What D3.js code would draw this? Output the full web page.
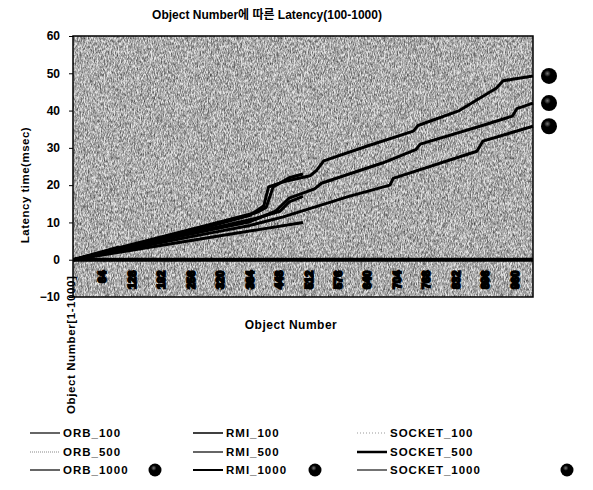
<!DOCTYPE html>
<html>
<head>
<meta charset="utf-8">
<script src="https://cdn.jsdelivr.net/npm/d3@7"></script>
<style>
  body { margin: 0; background: #fff; }
  svg { display: block; font-family: "Liberation Sans", Arial, "Noto Sans CJK KR", sans-serif; font-weight: bold; }
</style>
</head>
<body>
<div id="chart"></div>
<script>
const Width = 593;
const Height = 490;

// y axis ticks and the category labels under the zero line
const yTicks = [-10, 0, 10, 20, 30, 40, 50, 60];
const xTickObjects = [64, 128, 192, 256, 320, 384, 448, 512, 576, 640, 704, 768, 832, 896, 960];

// object number / latency (msec) for each series
const orb100Obj = [1, 50, 100];
const orb100Ms = [0, 1.7, 3.4];
const rmi100Obj = [1, 50, 100];
const rmi100Ms = [0, 1.5, 3.0];
const socket100Obj = [1, 50, 100];
const socket100Ms = [0, 1.2, 2.5];

const orb500Obj = [1, 100, 200, 300, 400, 420, 435, 470, 500];
const orb500Ms = [0, 3.2, 6.4, 9.5, 12.7, 14, 19.5, 22, 23];
const rmi500Obj = [1, 100, 200, 300, 400, 450, 470, 500];
const rmi500Ms = [0, 2.8, 5.6, 8.4, 11.2, 13, 15.5, 17];
const socket500Obj = [1, 100, 200, 300, 400, 500];
const socket500Ms = [0, 2.0, 4.0, 6.0, 8.0, 10];

const orb1000Obj = [1, 100, 200, 300, 385, 415, 425, 460, 515, 530, 545, 640, 740, 750, 840, 920, 935, 1000];
const orb1000Ms = [0, 3, 6, 9, 11.9, 14.5, 19.5, 21, 22.5, 24, 26.5, 30.5, 34.5, 36, 40, 46, 48, 49.3];
const rmi1000Obj = [1, 100, 200, 300, 385, 440, 470, 525, 540, 674, 745, 755, 890, 955, 965, 1000];
const rmi1000Ms = [0, 2.7, 5.4, 8, 10.2, 13, 16.5, 19, 20.5, 26, 29.5, 31, 36, 38.5, 40.5, 42];
const socket1000Obj = [1, 100, 200, 300, 385, 457, 600, 689, 696, 878, 891, 1000];
const socket1000Ms = [0, 2.4, 4.8, 7.2, 9.2, 11.5, 17, 20, 21.8, 29.1, 31.8, 35.8];

const Series = [
  { name: 'ORB_100', obj: orb100Obj, ms: orb100Ms, col: 0, row: 0, stroke: '#000', w: 1.2, dash: null, marker: false },
  { name: 'ORB_500', obj: orb500Obj, ms: orb500Ms, col: 0, row: 1, stroke: '#888', w: 1, dash: '1,1', marker: false },
  { name: 'ORB_1000', obj: orb1000Obj, ms: orb1000Ms, col: 0, row: 2, stroke: '#333', w: 1.5, dash: null, marker: true },
  { name: 'RMI_100', obj: rmi100Obj, ms: rmi100Ms, col: 1, row: 0, stroke: '#000', w: 1.5, dash: null, marker: false },
  { name: 'RMI_500', obj: rmi500Obj, ms: rmi500Ms, col: 1, row: 1, stroke: '#333', w: 1.5, dash: null, marker: false },
  { name: 'RMI_1000', obj: rmi1000Obj, ms: rmi1000Ms, col: 1, row: 2, stroke: '#000', w: 2, dash: null, marker: true },
  { name: 'SOCKET_100', obj: socket100Obj, ms: socket100Ms, col: 2, row: 0, stroke: '#999', w: 1, dash: '1,2', marker: false },
  { name: 'SOCKET_500', obj: socket500Obj, ms: socket500Ms, col: 2, row: 1, stroke: '#000', w: 2.5, dash: null, marker: false },
  { name: 'SOCKET_1000', obj: socket1000Obj, ms: socket1000Ms, col: 2, row: 2, stroke: '#444', w: 1.5, dash: null, marker: true }
];

const svg = d3.select('#chart').append('svg')
  .attr('width', Width)
  .attr('height', Height);

const x = d3.scaleLinear().domain([0, 1000]).range([73, 533]);
const y = d3.scaleLinear().domain([-10, 60]).range([297, 36]);

//grainy scanned background
const defs = svg.append('defs');
const grain = defs.append('filter').attr('id', 'grain')
  .attr('x', 0).attr('y', 0).attr('width', 1).attr('height', 1);
grain.append('feTurbulence')
  .attr('type', 'fractalNoise')
  .attr('baseFrequency', '1.3 0.35')
  .attr('numOctaves', 2)
  .attr('seed', 4);
grain.append('feColorMatrix')
  .attr('type', 'matrix')
  .attr('values', '0 0 0 0 0  0 0 0 0 0  0 0 0 0 0  1.15 0 0 0 -0.32');
grain.append('feComposite').attr('in2', 'SourceGraphic').attr('operator', 'in');

defs.append('radialGradient').attr('id', 'ball')
  .attr('cx', '40%').attr('cy', '35%').attr('r', '60%')
  .call(g => {
    g.append('stop').attr('offset', '0%').attr('stop-color', '#777');
    g.append('stop').attr('offset', '35%').attr('stop-color', '#000');
    g.append('stop').attr('offset', '100%').attr('stop-color', '#000');
  });

svg.append('rect')
  .attr('x', x(0)).attr('y', y(60))
  .attr('width', x(1000) - x(0)).attr('height', y(-10) - y(60))
  .attr('fill', '#e6e6e6');
svg.append('rect')
  .attr('x', x(0)).attr('y', y(60))
  .attr('width', x(1000) - x(0)).attr('height', y(-10) - y(60))
  .attr('fill', '#fff')
  .attr('filter', 'url(#grain)');

//y axis
const yAxis = svg.append('g')
  .attr('transform', 'translate(' + x(0) + ',0)')
  .call(d3.axisLeft(y).tickValues(yTicks).tickSize(4).tickPadding(9));
yAxis.select('.domain').remove();
yAxis.selectAll('text').style('font-size', '12px').attr('fill', '#000');

//category labels below the zero line
svg.append('g').selectAll('text')
  .data(xTickObjects)
  .enter()
  .append('text')
  .attr('transform', d => 'translate(' + (x(d) + 4) + ',' + (y(0) + 11) + ') rotate(-90)')
  .attr('text-anchor', 'end')
  .style('font-size', '11px')
  .attr('fill', '#000')
  .attr('stroke', '#000')
  .attr('stroke-width', 1.8)
  .text(d => d);

//zero line
svg.append('line')
  .attr('x1', x(0)).attr('x2', x(1000))
  .attr('y1', y(0)).attr('y2', y(0))
  .attr('stroke', '#000').attr('stroke-width', 4);

//series lines
const line = d3.line()
  .x(d => x(d[0]))
  .y(d => y(d[1]));

svg.append('g').selectAll('path')
  .data(Series)
  .enter()
  .append('path')
  .attr('d', s => line(d3.zip(s.obj, s.ms)))
  .attr('fill', 'none')
  .attr('stroke', '#000')
  .attr('stroke-width', 3)
  .attr('stroke-linejoin', 'round');

//end markers
svg.append('g').selectAll('circle')
  .data(Series.filter(s => s.marker))
  .enter()
  .append('circle')
  .attr('cx', x(1000) + 16)
  .attr('cy', s => y(s.ms[s.ms.length - 1]))
  .attr('r', 8)
  .attr('fill', 'url(#ball)');

//frame
svg.append('rect')
  .attr('x', x(0)).attr('y', y(60))
  .attr('width', x(1000) - x(0)).attr('height', y(-10) - y(60))
  .attr('fill', 'none')
  .attr('stroke', '#000')
  .attr('stroke-width', 1.5);

//titles
svg.append('text')
  .attr('x', 267).attr('y', 19)
  .attr('text-anchor', 'middle')
  .style('font-size', '12px')
  .text('Object Number에 따른 Latency(100-1000)');

svg.append('text')
  .attr('transform', 'translate(29,185) rotate(-90)')
  .attr('text-anchor', 'middle')
  .style('font-size', '11.5px')
  .style('letter-spacing', '0.5px')
  .text('Latency time(msec)');

svg.append('text')
  .attr('x', 291).attr('y', 329)
  .attr('text-anchor', 'middle')
  .style('font-size', '12px')
  .style('letter-spacing', '0.5px')
  .text('Object Number');

svg.append('text')
  .attr('transform', 'translate(75,414) rotate(-90)')
  .attr('text-anchor', 'start')
  .style('font-size', '11.5px')
  .style('letter-spacing', '0.6px')
  .text('Object Number[1-1000]');

//legend
const LegendCols = [30, 193, 357];
const LegendRows = [433, 452, 470];
const LegendLine = 30;
const MarkerX = [155, 315, 567];

const legend = svg.append('g').selectAll('.legend')
  .data(Series)
  .enter()
  .append('g')
  .attr('class', 'legend')
  .attr('transform', s => 'translate(' + LegendCols[s.col] + ',' + LegendRows[s.row] + ')');

legend.append('line')
  .attr('x1', 0).attr('x2', LegendLine)
  .attr('y1', 0).attr('y2', 0)
  .attr('stroke', s => s.stroke)
  .attr('stroke-width', s => s.w)
  .attr('stroke-dasharray', s => s.dash);

legend.append('text')
  .attr('x', LegendLine + 3)
  .attr('y', 4)
  .style('font-size', '11.5px')
  .style('letter-spacing', '1px')
  .text(s => s.name);

legend.filter(s => s.marker)
  .append('circle')
  .attr('cx', s => MarkerX[s.col] - LegendCols[s.col])
  .attr('cy', 0)
  .attr('r', 6.5)
  .attr('fill', 'url(#ball)');
</script>
</body>
</html>
